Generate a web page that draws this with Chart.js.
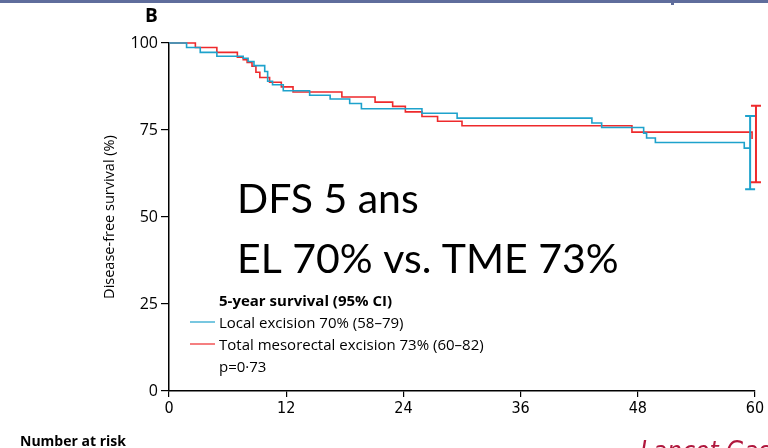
<!DOCTYPE html>
<html>
<head>
<meta charset="utf-8">
<script src="https://cdn.jsdelivr.net/npm/chart.js@4"></script>
<style>
  html, body { margin: 0; padding: 0; background: #fff; }
  #km { display: block; }
</style>
</head>
<body>
<canvas id="km" width="768" height="448"></canvas>
<script>
// Kaplan-Meier step points, months vs % disease-free
const leTimes = [0, 1.8, 3.2, 4.9, 7.6, 8.1, 8.7, 9.8, 10.1, 10.6, 11.7, 14.4, 16.5, 18.5, 19.7, 25.9, 29.5, 43.3, 44.3, 48.6, 48.9, 49.8, 58.9, 59.5];
const leSurv = [100, 98.7, 97.3, 96.2, 95.6, 94.7, 93.5, 91.8, 89.0, 88.0, 86.3, 85.0, 83.9, 82.6, 81.1, 79.8, 78.4, 77.0, 75.7, 74.1, 72.7, 71.4, 69.8, 69.8];

const tmeTimes = [0, 2.7, 4.9, 7.0, 7.6, 8.0, 8.5, 8.9, 9.3, 10.3, 11.5, 12.7, 17.7, 21.1, 22.9, 24.2, 25.9, 27.5, 30.0, 47.4, 59.7];
const tmeSurv = [100, 98.7, 97.3, 95.9, 95.2, 94.4, 93.3, 91.6, 90.1, 88.7, 87.4, 85.9, 84.5, 83.0, 81.8, 80.2, 78.9, 77.5, 76.2, 74.4, 72.4];

// 95% CI at 5 years, drawn as error bars near the end of follow-up
const ciTimes = [59.5, 60.1];
const ciLower = [58, 60];
const ciUpper = [79, 82];

const xTickLabels = [0, 12, 24, 36, 48, 60];
const yTickLabels = [0, 25, 50, 75, 100];

const seriesNames = ["Local excision 70% (58–79)", "Total mesorectal excision 73% (60–82)"];
const seriesColors = ["#1ea2cc", "#ee2a2c"];

const toPoints = (xs, ys) => xs.map((x, i) => ({ x: x, y: ys[i] }));

const sansFont = "'Open Sans', 'DejaVu Sans', sans-serif";
const narrowFont = "'Liberation Sans Narrow', 'DejaVu Sans Condensed', sans-serif";

const decorPlugin = {
  id: "decor",
  beforeDraw(chart) {
    const ctx = chart.ctx;
    ctx.save();
    ctx.fillStyle = "#fff";
    ctx.fillRect(0, 0, chart.width, chart.height);
    // slide frame line at the very top
    ctx.fillStyle = "#5f6d9c";
    ctx.fillRect(0, 0, chart.width, 3);
    ctx.fillRect(671, 0, 3, 5);
    ctx.restore();
  },
  afterDatasetsDraw(chart) {
    const ctx = chart.ctx;
    const xs = chart.scales.x, ys = chart.scales.y;
    ctx.save();
    // CI error bars
    ciTimes.forEach((t, i) => {
      const px = xs.getPixelForValue(t);
      const top = ys.getPixelForValue(ciUpper[i]);
      const bot = ys.getPixelForValue(ciLower[i]);
      ctx.strokeStyle = seriesColors[i];
      ctx.lineWidth = 2;
      ctx.beginPath();
      ctx.moveTo(px, top); ctx.lineTo(px, bot);
      ctx.moveTo(px - 5, top); ctx.lineTo(px + 5, top);
      ctx.moveTo(px - 5, bot); ctx.lineTo(px + 5, bot);
      ctx.stroke();
    });
    ctx.restore();
  },
  afterDraw(chart) {
    const ctx = chart.ctx;
    ctx.save();
    ctx.textBaseline = "alphabetic";
    ctx.textAlign = "left";

    ctx.fillStyle = "#000";
    ctx.font = "bold 19px " + sansFont;
    ctx.fillText("B", 145, 22);

    // big overlay text
    ctx.font = "41px Lato, 'Open Sans', sans-serif";
    ctx.fillText("DFS 5 ans", 237, 213);
    ctx.fillText("EL 70% vs. TME 73%", 237, 273);

    // legend block
    ctx.font = "bold 15px " + sansFont;
    ctx.fillText("5-year survival (95% CI)", 219, 306);
    ctx.font = "15px " + sansFont;
    const rows = [328, 350];
    rows.forEach((y, i) => {
      ctx.strokeStyle = seriesColors[i];
      ctx.lineWidth = 1.2;
      ctx.beginPath();
      ctx.moveTo(190, y - 6);
      ctx.lineTo(215, y - 6);
      ctx.stroke();
      ctx.fillText(seriesNames[i], 219, y);
    });
    ctx.fillText("p=0·73", 219, 372);

    ctx.font = "bold 14px " + sansFont;
    ctx.fillText("Number at risk", 20, 446);

    ctx.fillStyle = "#b0173d";
    ctx.font = "italic 26px " + narrowFont;
    ctx.fillText("Lancet Gastroenterol Hepatol", 640, 460);
    ctx.restore();
  }
};

new Chart(document.getElementById("km"), {
  type: "line",
  data: {
    datasets: [
      {
        label: seriesNames[0],
        data: toPoints(leTimes, leSurv),
        borderColor: seriesColors[0],
        borderWidth: 1.6,
        stepped: true,
        pointRadius: 0,
        fill: false,
        clip: false
      },
      {
        label: seriesNames[1],
        data: toPoints(tmeTimes, tmeSurv),
        borderColor: seriesColors[1],
        borderWidth: 1.6,
        stepped: true,
        pointRadius: 0,
        fill: false,
        clip: false
      }
    ]
  },
  options: {
    responsive: false,
    animation: false,
    layout: { padding: { top: 43, right: 13, left: 0, bottom: 0 } },
    plugins: {
      legend: { display: false },
      tooltip: { enabled: false }
    },
    scales: {
      x: {
        type: "linear",
        min: 0,
        max: 60,
        afterBuildTicks: (axis) => { axis.ticks = xTickLabels.map(v => ({ value: v })); },
        afterFit: (axis) => { axis.height = 57; },
        grid: { drawOnChartArea: false, drawTicks: true, tickLength: 6, color: "#000", lineWidth: 1.2 },
        border: { color: "#000", width: 1.5 },
        ticks: { color: "#000", padding: 2, maxRotation: 0, font: { family: narrowFont, size: 16 } }
      },
      y: {
        min: 0,
        max: 100,
        afterBuildTicks: (axis) => { axis.ticks = yTickLabels.map(v => ({ value: v })); },
        afterFit: (axis) => { axis.width = 169; },
        grid: { drawOnChartArea: false, drawTicks: true, tickLength: 8, color: "#000", lineWidth: 1.2 },
        border: { color: "#000", width: 1.5 },
        ticks: { color: "#000", padding: 3, font: { family: sansFont, size: 16 } },
        title: {
          display: true,
          text: "Disease-free survival (%)",
          color: "#000",
          font: { family: sansFont, size: 14.5 },
          padding: { top: 101, bottom: 0 }
        }
      }
    }
  },
  plugins: [decorPlugin]
});
</script>
</body>
</html>
